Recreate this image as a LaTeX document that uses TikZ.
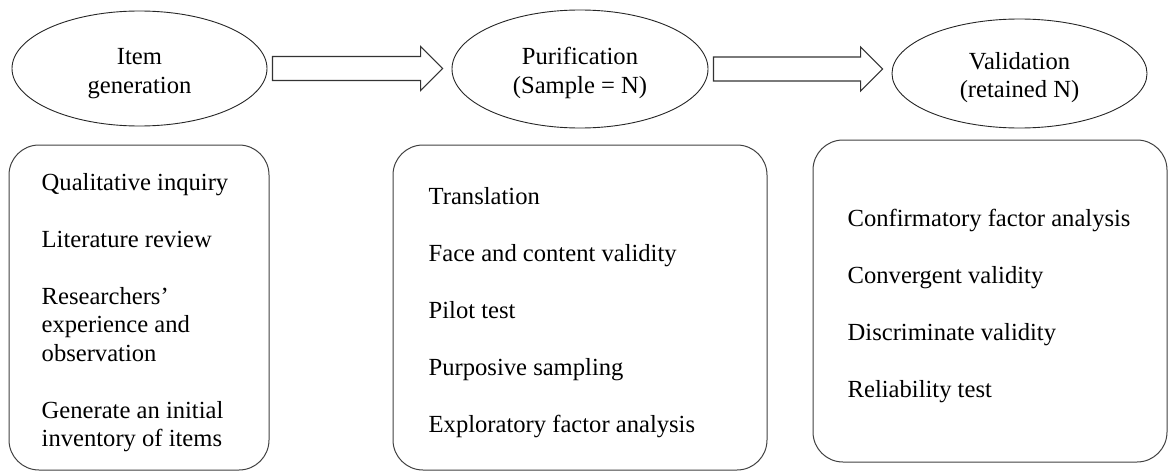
\documentclass[tikz,border=0pt]{standalone}
\usepackage{fontspec}
\setmainfont{Liberation Serif}
\usepackage{tikz}
\usetikzlibrary{positioning,shapes.geometric,calc}

\tikzset{
    stage/.style={ellipse, draw=black!85, line width=0.9pt, inner sep=0pt},
    stagename/.style={align=center, inner sep=0pt},
    stagebox/.style={draw=black!75, line width=1pt, rounded corners=30pt},
    itemlist/.style={align=left, inner sep=0pt, yshift=-5pt},
    hollowarrow/.style={draw=black!80, line width=1.1pt, line join=miter}
}

% hollow block arrow between two stages
\newcommand{\blockarrow}[2]{%
    \draw[hollowarrow] let \p1=(#1.east), \p2=(#2.west) in
        (\x1+5pt,\y1+12pt) -- (\x2-31pt,\y1+12pt) -- (\x2-31pt,\y1+22pt)
        -- (\x2-9pt,\y1) -- (\x2-31pt,\y1-22pt) -- (\x2-31pt,\y1-12pt)
        -- (\x1+5pt,\y1-12pt) -- cycle;
}

\begin{document}
\begin{tikzpicture}[x=1pt, y=-1pt, every node/.style={font=\fontsize{24.6}{28.5}\selectfont}]
    \useasboundingbox (0,0) rectangle (1170,471);

    % stages
    \node[stage, minimum width=255, minimum height=115] (gen) at (139.5, 68.5) {};
    \node[stage, minimum width=256, minimum height=118] (pur) at (580, 69) {};
    \node[stage, minimum width=255, minimum height=109] (val) at (1019.5, 73.5) {};
    \node[stagename] (gen_name) at ([yshift=-5pt]gen.center) {Item\\ generation};
    \node[stagename] (pur_name) at ([yshift=-4pt]pur.center) {Purification\\ (Sample = N)};
    \node[stagename] (val_name) at ([yshift=-4pt]val.center) {Validation\\ (retained N)};

    \blockarrow{gen}{pur}
    \blockarrow{pur}{val}

    % activities of each stage
    \node[stagebox, minimum width=260, minimum height=325] (box1) at (139, 307.5) {};
    \node[itemlist, right=33pt of box1.west] (list1) {Qualitative inquiry\\[28.5pt]
        Literature review\\[28.5pt]
        Researchers'\\ experience and\\ observation\\[28.5pt]
        Generate an initial\\ inventory of items};

    \node[stagebox, minimum width=374, minimum height=325] (box2) at (580, 307.5) {};
    \node[itemlist, right=36pt of box2.west] (list2) {Translation\\[28.4pt]
        Face and content validity\\[28.4pt]
        Pilot test\\[28.4pt]
        Purposive sampling\\[28.4pt]
        Exploratory factor analysis};

    \node[stagebox, minimum width=354, minimum height=322] (box3) at (990, 301) {};
    \node[itemlist, right=35pt of box3.west] (list3) {Confirmatory factor analysis\\[28.4pt]
        Convergent validity\\[28.4pt]
        Discriminate validity\\[28.4pt]
        Reliability test};
\end{tikzpicture}
\end{document}
